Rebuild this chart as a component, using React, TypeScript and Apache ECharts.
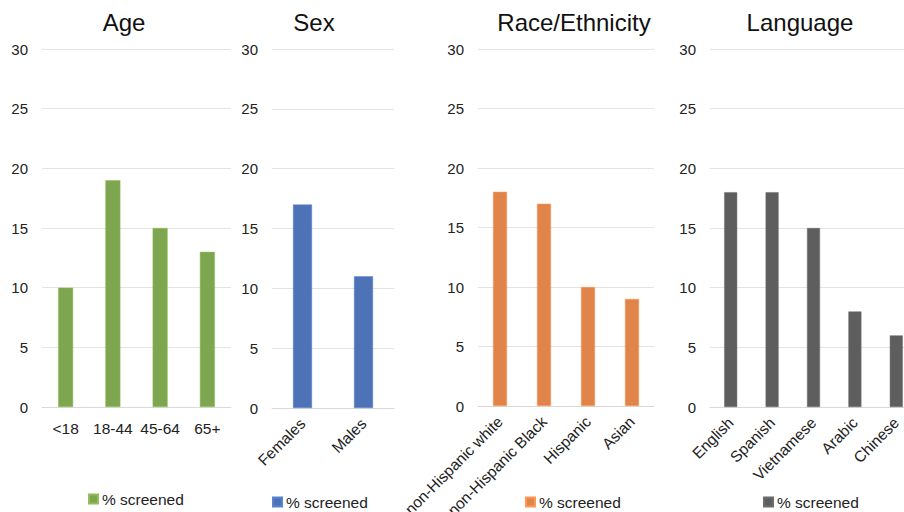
import React, { useEffect, useRef } from "react";
import * as echarts from "echarts";

const ageCategories = ["<18", "18-44", "45-64", "65+"];
const ageValues = [10, 19, 15, 13];
const sexCategories = ["Females", "Males"];
const sexValues = [17, 11];
const raceCategories = ["non-Hispanic white", "non-Hispanic Black", "Hispanic", "Asian"];
const raceValues = [18, 17, 10, 9];
const languageCategories = ["English", "Spanish", "Vietnamese", "Arabic", "Chinese"];
const languageValues = [18, 18, 15, 8, 6];
const panelTitles = ["Age", "Sex", "Race/Ethnicity", "Language"];
const legendLabel = "% screened";
const yTicks = { min: 0, max: 30, interval: 5 };

const FONT = "'Liberation Sans', Arial, Helvetica, sans-serif";

export default function App() {
  const ref = useRef<HTMLDivElement>(null);
  useEffect(() => {
    if (!ref.current) return;
    const chart = echarts.init(ref.current, undefined, { renderer: "svg" });

    const panels = [
      { key: "age", cats: ageCategories, vals: ageValues, color: "#7EA64F", left: 42, width: 189, top: 49, height: 358, rotate: 0, barWidth: 15, titleX: 124, legendLeft: 83, legendTop: 486 },
      { key: "sex", cats: sexCategories, vals: sexValues, color: "#4D72B6", left: 272, width: 122, top: 49, height: 359, rotate: 45, barWidth: 19, titleX: 314, legendLeft: 267, legendTop: 489 },
      { key: "race", cats: raceCategories, vals: raceValues, color: "#E0844A", left: 478, width: 176, top: 49, height: 357, rotate: 45, barWidth: 14, titleX: 574, legendLeft: 520, legendTop: 489 },
      { key: "lang", cats: languageCategories, vals: languageValues, color: "#5E5E5E", left: 710, width: 207, top: 49, height: 358, rotate: 45, barWidth: 13, titleX: 800, legendLeft: 758, legendTop: 489 },
    ];

    const option: any = {
      animation: false,
      backgroundColor: "#ffffff",
      textStyle: { fontFamily: FONT },
      grid: panels.map((p) => ({
        left: p.left,
        width: p.width,
        top: p.top,
        height: p.height,
        containLabel: false,
        outerBoundsMode: "none",
      })),
      xAxis: panels.map((p, i) => ({
        type: "category",
        gridIndex: i,
        data: p.cats,
        axisLine: { show: true, lineStyle: { color: "#D9D9D9", width: 1 } },
        axisTick: { show: false },
        axisLabel: {
          interval: 0,
          rotate: p.rotate,
          margin: 13,
          fontSize: 15.5,
          color: "#222",
          fontFamily: FONT,
          hideOverlap: false,
        },
      })),
      yAxis: panels.map((p, i) => ({
        type: "value",
        gridIndex: i,
        min: yTicks.min,
        max: yTicks.max,
        interval: yTicks.interval,
        axisLine: { show: false },
        axisTick: { show: false },
        splitLine: { lineStyle: { color: "#E3E3E3", width: 1 } },
        axisLabel: { fontSize: 15, color: "#222", margin: 14, fontFamily: FONT },
      })),
      series: panels.map((p, i) => ({
        name: p.key,
        type: "bar",
        xAxisIndex: i,
        yAxisIndex: i,
        data: p.vals,
        barWidth: p.barWidth,
        itemStyle: { color: p.color, borderColor: echarts.color.lift(p.color, -0.15), borderWidth: 0.5 },
      })),
      legend: panels.map((p) => ({
        data: [p.key],
        left: p.legendLeft,
        top: p.legendTop,
        icon: "rect",
        itemWidth: 9,
        itemHeight: 9,
        selectedMode: false,
        formatter: () => legendLabel,
        textStyle: { fontSize: 15.5, color: "#222", fontFamily: FONT, padding: [0, 0, 0, -1] },
      })),
      graphic: panels.map((p, i) => ({
        type: "text",
        x: p.titleX,
        y: 22,
        style: {
          text: panelTitles[i],
          textAlign: "center",
          textVerticalAlign: "middle",
          fontSize: 24,
          fontFamily: FONT,
          fill: "#111",
        },
      })),
    };

    chart.setOption(option);
    return () => chart.dispose();
  }, []);

  return <div ref={ref} style={{ width: 904, height: 512, position: "absolute", left: 0, top: 0 }} />;
}
